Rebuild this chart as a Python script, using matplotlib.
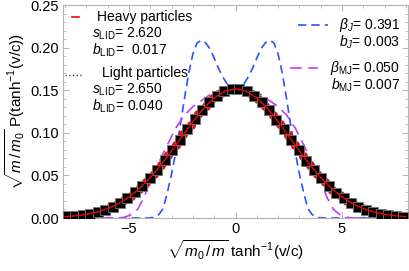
import matplotlib
matplotlib.use('Agg')
import matplotlib.pyplot as plt
from matplotlib.lines import Line2D
from matplotlib.ticker import MultipleLocator

plt.rcParams['font.family'] = 'Liberation Sans'
plt.rcParams['mathtext.fontset'] = 'custom'
plt.rcParams['mathtext.rm'] = 'Liberation Sans'
plt.rcParams['mathtext.it'] = 'Liberation Sans:italic'
plt.rcParams['mathtext.bf'] = 'Liberation Sans:bold'

# Light particles (black squares)
x_light = [-7.875, -7.525, -7.175, -6.825, -6.475, -6.125, -5.775, -5.425, -5.075, -4.725,
           -4.375, -4.025, -3.675, -3.325, -2.975, -2.625, -2.275, -1.925, -1.575, -1.225,
           -0.875, -0.525, -0.175, 0.175, 0.525, 0.875, 1.225, 1.575, 1.925, 2.275,
           2.625, 2.975, 3.325, 3.675, 4.025, 4.375, 4.725, 5.075, 5.425, 5.775,
           6.125, 6.475, 6.825, 7.175, 7.525, 7.875]
y_light = [0.0018, 0.0026, 0.0035, 0.0050, 0.0070, 0.0098, 0.0133, 0.0180, 0.0232, 0.0300,
           0.0376, 0.0469, 0.0566, 0.0681, 0.0796, 0.0923, 0.1041, 0.1162, 0.1268, 0.1365,
           0.1435, 0.1492, 0.1518, 0.1515, 0.1488, 0.1440, 0.1360, 0.1272, 0.1158, 0.1045,
           0.0918, 0.0800, 0.0676, 0.0570, 0.0465, 0.0379, 0.0297, 0.0235, 0.0176, 0.0135,
           0.0097, 0.0072, 0.0050, 0.0036, 0.0024, 0.0017]

# Heavy particles (red dots)
x_heavy = [-7.70, -7.35, -7.00, -6.65, -6.30, -5.95, -5.60, -5.25, -4.90, -4.55,
           -4.20, -3.85, -3.50, -3.15, -2.80, -2.45, -2.10, -1.75, -1.40, -1.05,
           -0.70, -0.35, 0.00, 0.35, 0.70, 1.05, 1.40, 1.75, 2.10, 2.45,
           2.80, 3.15, 3.50, 3.85, 4.20, 4.55, 4.90, 5.25, 5.60, 5.95,
           6.30, 6.65, 7.00, 7.35, 7.70]
y_heavy = [0.0021, 0.0031, 0.0042, 0.0062, 0.0083, 0.0116, 0.0153, 0.0206, 0.0262, 0.0339,
           0.0418, 0.0519, 0.0620, 0.0741, 0.0856, 0.0985, 0.1099, 0.1219, 0.1315, 0.1406,
           0.1465, 0.1508, 0.1520, 0.1504, 0.1470, 0.1400, 0.1321, 0.1213, 0.1105, 0.0979,
           0.0862, 0.0735, 0.0626, 0.0513, 0.0424, 0.0335, 0.0266, 0.0202, 0.0157, 0.0113,
           0.0086, 0.0060, 0.0044, 0.0029, 0.0021]

# LID fits
x_fit = [-8.0, -7.5, -7.0, -6.5, -6.0, -5.5, -5.0, -4.5, -4.0, -3.5, -3.0, -2.5, -2.0, -1.5, -1.0, -0.5,
         0.0, 0.5, 1.0, 1.5, 2.0, 2.5, 3.0, 3.5, 4.0, 4.5, 5.0, 5.5, 6.0, 6.5, 7.0, 7.5, 8.0]
y_fit_heavy = [0.0015, 0.0026, 0.0043, 0.0070, 0.0110, 0.0168, 0.0247, 0.0349, 0.0475, 0.0623,
               0.0789, 0.0963, 0.1135, 0.1290, 0.1413, 0.1493, 0.1520, 0.1493, 0.1413, 0.1290,
               0.1135, 0.0963, 0.0789, 0.0623, 0.0475, 0.0349, 0.0247, 0.0168, 0.0110, 0.0070,
               0.0043, 0.0026, 0.0015]
y_fit_light = [0.0017, 0.0028, 0.0046, 0.0073, 0.0113, 0.0171, 0.0250, 0.0351, 0.0476, 0.0622,
               0.0786, 0.0958, 0.1127, 0.1280, 0.1401, 0.1480, 0.1508, 0.1480, 0.1401, 0.1280,
               0.1127, 0.0958, 0.0786, 0.0622, 0.0476, 0.0351, 0.0250, 0.0171, 0.0113, 0.0073,
               0.0046, 0.0028, 0.0017]

# Juttner (blue dashed)
x_j = [-8.0, -4.0, -3.8, -3.6, -3.4, -3.2, -3.0, -2.8, -2.6, -2.4, -2.2, -2.0, -1.8, -1.6, -1.4,
       -1.2, -1.0, -0.8, -0.6, -0.4, -0.2, 0.0, 0.2, 0.4, 0.6, 0.8, 1.0, 1.2, 1.4, 1.6,
       1.8, 2.0, 2.2, 2.4, 2.6, 2.8, 3.0, 3.2, 3.4, 3.6, 3.8, 4.0, 8.0]
y_j = [0.0, 0.0, 0.001, 0.004, 0.011, 0.030, 0.052, 0.078, 0.108, 0.140, 0.170, 0.193, 0.206, 0.209, 0.206,
       0.199, 0.188, 0.176, 0.166, 0.158, 0.154, 0.153, 0.154, 0.158, 0.166, 0.176, 0.188, 0.199, 0.206, 0.209,
       0.206, 0.193, 0.170, 0.140, 0.108, 0.078, 0.052, 0.030, 0.011, 0.004, 0.001, 0.0, 0.0]

# modified Juttner (magenta dashed)
x_mj = [-8.0, -5.5, -5.2, -4.9, -4.6, -4.3, -4.0, -3.6, -3.2, -2.8, -2.4, -2.0, -1.6, -1.2, -0.8, -0.4,
        0.0, 0.4, 0.8, 1.2, 1.6, 2.0, 2.4, 2.8, 3.2, 3.6, 4.0, 4.3, 4.6, 4.9, 5.2, 5.5, 8.0]
y_mj = [0.0, 0.0, 0.001, 0.004, 0.010, 0.024, 0.044, 0.065, 0.086, 0.106, 0.121, 0.131, 0.138, 0.145, 0.150, 0.154,
        0.155, 0.154, 0.150, 0.145, 0.138, 0.131, 0.121, 0.106, 0.086, 0.065, 0.044, 0.024, 0.010, 0.004, 0.001, 0.0, 0.0]

W, H = 409., 271.
fig = plt.figure(figsize=(W / 100., H / 100.), dpi=100)
ax = fig.add_axes([63 / W, 1 - 218 / H, 345 / W, 213 / H])

ax.plot(x_j, y_j, color='#2a52ff', lw=1.2, dashes=(5, 3), zorder=2)
ax.plot(x_mj, y_mj, color='#c23cf2', lw=1.2, dashes=(7, 4), zorder=2)
ax.plot(x_heavy, y_heavy, 'o', ms=5.5, color='red', mec='red', zorder=3)
ax.plot(x_light, y_light, 's', ms=7, color='black', mec='#777777', mew=0.6, zorder=4)
ax.plot(x_fit, y_fit_light, ':', color='#333333', lw=1, zorder=5)
ax.plot(x_fit, y_fit_heavy, '-', color='red', lw=0.9, zorder=6)

ax.set_xlim(-8.1, 8.1)
ax.set_ylim(0, 0.2505)
ax.xaxis.set_minor_locator(MultipleLocator(1))
ax.yaxis.set_minor_locator(MultipleLocator(0.01))
ax.set_xticks([-5, 0, 5])
ax.set_xticklabels(['\u22125', '0', '5'])
ax.set_yticks([0, 0.05, 0.10, 0.15, 0.20, 0.25])
ax.set_yticklabels(['0.00', '0.05', '0.10', '0.15', '0.20', '0.25'])

for s in ax.spines.values():
    s.set_color('#b4b4b4')
    s.set_linewidth(0.8)
ax.tick_params(which='both', direction='in', top=True, right=True, color='#b4b4b4',
               labelsize=10.5, labelcolor='black', pad=3)
ax.tick_params(which='major', length=4, width=0.8)
ax.tick_params(which='minor', length=2, width=0.6)

ax.set_xlabel(r'$\sqrt{m_0\,/\,m}$ tanh$^{-1}$(v/c)', fontsize=11, labelpad=2)
ax.set_ylabel(r'$\sqrt{m\,/\,m_0}$ P(tanh$^{-1}$(v/c))', fontsize=11, labelpad=2)

# legend, left side
fs = 10
fig.add_artist(Line2D([72 / W, 79 / W], [1 - 17 / H, 1 - 17 / H], color='red', lw=1.2))
fig.text(97 / W, 1 - 17 / H, 'Heavy particles', fontsize=fs, va='center')
fig.text(92 / W, 1 - 34 / H, r'$s_{\mathrm{LID}}$= 2.620', fontsize=fs, va='center')
fig.text(92 / W, 1 - 50 / H, r'$b_{\mathrm{LID}}$=  0.017', fontsize=fs, va='center')
fig.add_artist(Line2D([65 / W, 83 / W], [1 - 75 / H, 1 - 75 / H], color='#444444', lw=1, ls=':'))
fig.text(102 / W, 1 - 73 / H, 'Light particles', fontsize=fs, va='center')
fig.text(92 / W, 1 - 90 / H, r'$s_{\mathrm{LID}}$= 2.650', fontsize=fs, va='center')
fig.text(92 / W, 1 - 106 / H, r'$b_{\mathrm{LID}}$= 0.040', fontsize=fs, va='center')

# legend, right side
fig.add_artist(Line2D([298 / W, 328 / W], [1 - 25 / H, 1 - 25 / H], color='#2a52ff', lw=1.2, dashes=(5, 3)))
fig.text(400 / W, 1 - 25 / H, r'$\beta_{J}$= 0.391', fontsize=fs, va='center', ha='right')
fig.text(400 / W, 1 - 42 / H, r'$b_{J}$= 0.003', fontsize=fs, va='center', ha='right')
fig.add_artist(Line2D([290 / W, 318 / W], [1 - 68 / H, 1 - 68 / H], color='#c23cf2', lw=1.2, dashes=(7, 4)))
fig.text(400 / W, 1 - 68 / H, r'$\beta_{\mathrm{MJ}}$= 0.050', fontsize=fs, va='center', ha='right')
fig.text(400 / W, 1 - 85 / H, r'$b_{\mathrm{MJ}}$= 0.007', fontsize=fs, va='center', ha='right')

fig.savefig('out.png', dpi=100)
